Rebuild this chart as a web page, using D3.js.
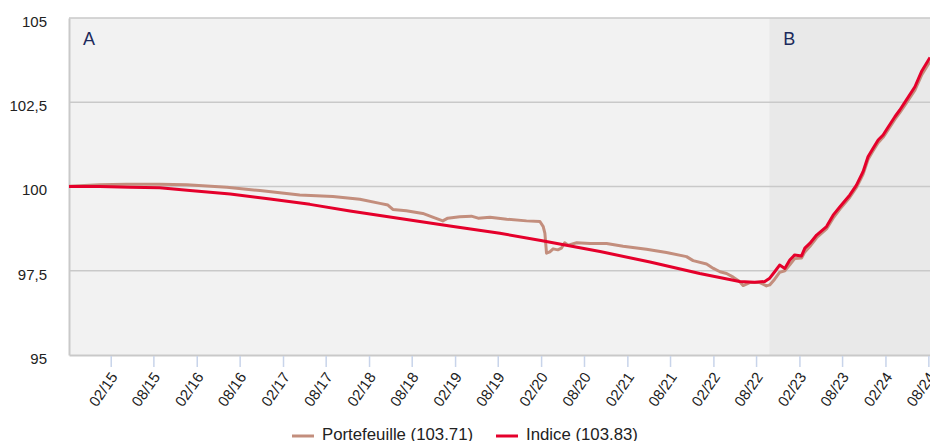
<!DOCTYPE html>
<html><head><meta charset="utf-8">
<script src="https://cdn.jsdelivr.net/npm/d3@7"></script>
<style>body{margin:0;background:#fff}svg{display:block;font-family:"Liberation Sans",Arial,sans-serif}</style>
</head><body><svg id="c" width="930" height="441"></svg>
<script>
const indiceDates = ["2014-08-08","2014-12-16","2015-04-23","2015-08-28","2016-01-03","2016-06-22","2016-12-08","2017-05-26","2017-11-12","2018-06-12","2019-01-10","2019-08-10","2020-01-31","2020-10-08","2021-05-08","2021-12-05","2022-05-23","2022-07-26","2022-09-07","2022-09-28","2022-10-19","2022-11-09","2022-12-01","2022-12-22","2023-01-12","2023-02-10","2023-02-24","2023-03-17","2023-04-15","2023-05-27","2023-06-24","2023-07-23","2023-09-03","2023-10-01","2023-10-29","2023-11-19","2023-12-10","2024-01-01","2024-01-22","2024-02-12","2024-03-12","2024-04-02","2024-04-30","2024-06-05","2024-07-03","2024-08-08"];
const indiceValues = [100.00,100.00,99.98,99.96,99.88,99.78,99.63,99.47,99.27,99.05,98.83,98.61,98.40,98.07,97.76,97.42,97.18,97.16,97.18,97.28,97.47,97.67,97.57,97.82,97.97,97.94,98.17,98.31,98.56,98.81,99.15,99.40,99.75,100.04,100.44,100.88,101.13,101.38,101.53,101.76,102.07,102.27,102.57,102.96,103.41,103.83];

const portDates = ["2014-08-08","2014-12-16","2015-04-09","2015-08-28","2015-12-20","2016-06-08","2016-10-26","2017-04-13","2017-09-01","2017-12-24","2018-03-19","2018-04-22","2018-05-13","2018-07-09","2018-09-17","2018-10-29","2018-12-11","2019-01-01","2019-02-21","2019-04-11","2019-05-10","2019-06-29","2019-09-08","2019-12-01","2020-01-27","2020-02-10","2020-02-17","2020-02-24","2020-03-09","2020-03-23","2020-04-12","2020-04-27","2020-05-11","2020-05-26","2020-07-01","2020-08-27","2020-11-05","2021-01-14","2021-04-23","2021-07-17","2021-10-10","2021-11-07","2022-01-03","2022-02-01","2022-03-01","2022-03-29","2022-04-26","2022-05-23","2022-06-07","2022-07-05","2022-08-17","2022-09-14","2022-09-28","2022-10-19","2022-11-09","2022-12-01","2022-12-22","2023-01-12","2023-02-10","2023-02-24","2023-03-17","2023-04-15","2023-05-27","2023-06-24","2023-07-23","2023-09-03","2023-10-01","2023-10-29","2023-11-19","2023-12-10","2024-01-01","2024-01-22","2024-02-12","2024-03-12","2024-04-02","2024-04-30","2024-06-05","2024-07-03","2024-08-08"];
const portValues = [100.01,100.05,100.07,100.07,100.05,99.98,99.88,99.75,99.70,99.62,99.50,99.45,99.32,99.28,99.20,99.09,98.98,99.06,99.10,99.12,99.06,99.09,99.03,98.98,98.96,98.81,98.62,98.02,98.06,98.15,98.12,98.17,98.33,98.26,98.33,98.31,98.31,98.23,98.14,98.04,97.92,97.80,97.70,97.57,97.47,97.42,97.31,97.18,97.06,97.15,97.15,97.05,97.08,97.25,97.45,97.50,97.68,97.86,97.88,98.06,98.22,98.48,98.74,99.06,99.33,99.68,99.97,100.36,100.80,101.05,101.30,101.46,101.68,101.99,102.19,102.48,102.86,103.30,103.71];

const yTicks = [95, 97.5, 100, 102.5, 105];
const xTickDates = ["2015-02-01","2015-08-01","2016-02-01","2016-08-01","2017-02-01","2017-08-01","2018-02-01","2018-08-01","2019-02-01","2019-08-01","2020-02-01","2020-08-01","2021-02-01","2021-08-01","2022-02-01","2022-08-01","2023-02-01","2023-08-01","2024-02-01","2024-08-01"];
const periods = [{label:"A", start:"2014-08-08", end:"2022-09-26"},{label:"B", start:"2022-09-26", end:"2024-08-08"}];
const seriesNames = ["Portefeuille (103.71)", "Indice (103.83)"];

const P = d3.timeParse("%Y-%m-%d");
const svg = d3.select("#c");
const L = 69, R = 930, T = 18, B = 355;
const x = d3.scaleTime().domain([P("2014-08-08"), P("2024-08-08")]).range([L, R]);
const y = d3.scaleLinear().domain([95, 105]).range([B, T]);

const bgCols = ["#f2f2f2", "#e9e9e9"];
periods.forEach((p, i) => {
  svg.append("rect").attr("x", x(P(p.start))).attr("y", T)
    .attr("width", x(P(p.end)) - x(P(p.start))).attr("height", B - T).attr("fill", bgCols[i]);
  svg.append("text").attr("x", x(P(p.start)) + 14).attr("y", 45)
    .attr("font-size", 18).attr("fill", "#1c2a5c").text(p.label);
});

svg.append("g").selectAll("line").data(yTicks.filter(d => d > 95)).join("line")
  .attr("x1", L).attr("x2", R).attr("y1", d => y(d)).attr("y2", d => y(d))
  .attr("stroke", "#c9c9c9").attr("stroke-width", 1.5);

const fmt = d => String(d).replace(".", ",");
const ya = svg.append("g").attr("transform", `translate(${L},0)`)
  .call(d3.axisLeft(y).tickValues(yTicks).tickFormat(fmt).tickSize(0).tickPadding(22));
ya.select(".domain").attr("stroke", "#c9c9c9").attr("stroke-width", 2);
ya.selectAll("text").attr("font-size", 15).attr("fill", "#222").attr("font-family", "Liberation Sans, Arial, sans-serif").attr("dy", "0.55em");

const xa = svg.append("g").attr("transform", `translate(0,${B})`)
  .call(d3.axisBottom(x).tickValues(xTickDates.map(P)).tickFormat(d3.timeFormat("%m/%y")).tickSize(12).tickSizeOuter(0));
xa.select(".domain").attr("stroke", "#c9c9c9").attr("stroke-width", 2);
xa.selectAll(".tick line").attr("stroke", "#c8d4ea").attr("stroke-width", 1.5).attr("y1", 1);
xa.selectAll("text").attr("font-size", 15).attr("fill", "#222").attr("font-family", "Liberation Sans, Arial, sans-serif")
  .attr("text-anchor", "end").attr("dy", 0).attr("y", 0)
  .attr("transform", "translate(7,22) rotate(-55)");

const line = d3.line().x(d => x(d[0])).y(d => y(d[1]));
const portData = portDates.map((d, i) => [P(d), portValues[i]]);
const indData = indiceDates.map((d, i) => [P(d), indiceValues[i]]);
svg.append("path").datum(portData).attr("d", line).attr("fill", "none")
  .attr("stroke", "#c38e7d").attr("stroke-width", 3).attr("stroke-linejoin", "round");
svg.append("path").datum(indData).attr("d", line).attr("fill", "none")
  .attr("stroke", "#e5002b").attr("stroke-width", 3).attr("stroke-linejoin", "round");

const legCols = ["#c38e7d", "#e5002b"];
const legX = [292, 496];
seriesNames.forEach((n, i) => {
  svg.append("line").attr("x1", legX[i]).attr("x2", legX[i] + 22).attr("y1", 436).attr("y2", 436)
    .attr("stroke", legCols[i]).attr("stroke-width", 3);
  svg.append("text").attr("x", legX[i] + 30).attr("y", 440).attr("font-size", 16.8).attr("fill", "#222").text(n);
});
</script></body></html>
